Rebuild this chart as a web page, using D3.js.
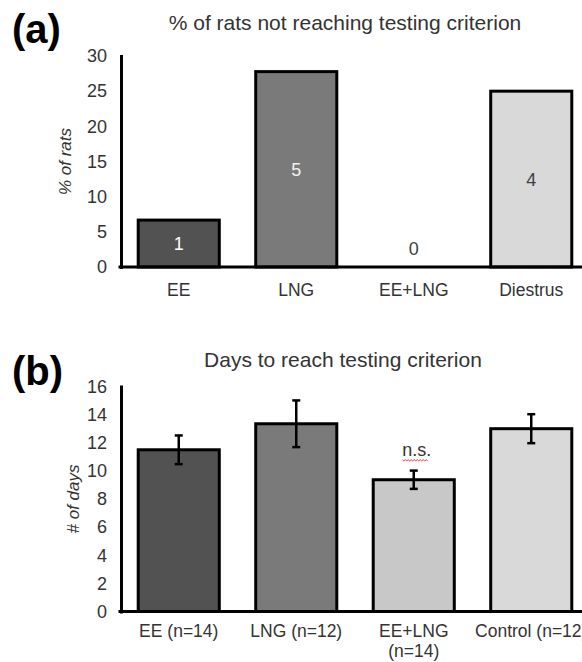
<!DOCTYPE html>
<html>
<head>
<meta charset="utf-8">
<script src="https://cdn.jsdelivr.net/npm/d3@7"></script>
<style>
  html, body { margin: 0; padding: 0; background: #fff; }
  svg { display: block; font-family: Arial, "Liberation Sans", sans-serif; }
</style>
</head>
<body>
<svg id="fig" width="582" height="662"></svg>
<script>
// Panel (a): rats not reaching testing criterion
const groupsA = ["EE", "LNG", "EE+LNG", "Diestrus"];
const pctA = [6.67, 27.78, 0, 25];
const countA = [1, 5, 0, 4];
const ticksA = [0, 5, 10, 15, 20, 25, 30];

// Panel (b): days to reach testing criterion (mean ± SEM)
const groupsB = [["EE (n=14)"], ["LNG (n=12)"], ["EE+LNG", "(n=14)"], ["Control (n=12)"]];
const meanB = [11.5, 13.35, 9.37, 13.0];
const semB = [1.02, 1.66, 0.65, 1.03];
const ticksB = [0, 2, 4, 6, 8, 10, 12, 14, 16];

const fills = ["#525252", "#7a7a7a", "#c8c8c8", "#d9d9d9"];
const fillsA = ["#525252", "#7a7a7a", "#c8c8c8", "#d9d9d9"];
const labelColors = ["#ffffff", "#f2f2f2", "#404040", "#404040"];

const svg = d3.select("#fig");
const textColor = "#333";

const x = d3.scaleBand().domain(d3.range(4)).range([120, 590]).paddingInner(0.31).paddingOuter(0.155);

function frame(g, y, yMax, ticks, axisTitle, titleX) {
  const axis = d3.axisLeft(y).tickValues(ticks).tickSize(0).tickSizeOuter(0).tickPadding(14);
  const ag = g.append("g").attr("transform", "translate(121,0)").call(axis);
  ag.select(".domain").attr("stroke", "#000").attr("stroke-width", 3).attr("stroke-linecap", "square");
  ag.selectAll("text").attr("font-size", 18).attr("fill", textColor).attr("font-family", "Arial, 'Liberation Sans', sans-serif");
  g.append("text")
    .attr("transform", `translate(${titleX},${(y(0) + y(yMax)) / 2}) rotate(-90)`)
    .attr("text-anchor", "middle")
    .attr("font-size", 17).attr("font-style", "italic").attr("fill", textColor)
    .text(axisTitle);
}

// ---------- (a) ----------
const gA = svg.append("g");
const yA = d3.scaleLinear().domain([0, 30]).range([267, 56]);

gA.append("text").attr("x", 12).attr("y", 43).attr("font-size", 40).attr("font-weight", "bold").attr("fill", "#000").text("(a)");
gA.append("text").attr("x", 345).attr("y", 30).attr("text-anchor", "middle").attr("font-size", 21).attr("fill", textColor)
  .text("% of rats not reaching testing criterion");

gA.selectAll("rect.bar").data(pctA).join("rect")
  .attr("class", "bar")
  .attr("x", (d, i) => x(i)).attr("width", x.bandwidth())
  .attr("y", d => yA(d)).attr("height", d => yA(0) - yA(d))
  .attr("fill", (d, i) => fillsA[i])
  .attr("stroke", d => d > 0 ? "#000" : "none").attr("stroke-width", 3);

gA.selectAll("text.count").data(countA).join("text")
  .attr("class", "count")
  .attr("x", (d, i) => x(i) + x.bandwidth() / 2)
  .attr("y", (d, i) => pctA[i] > 0 ? (yA(pctA[i]) + yA(0)) / 2 + 6.5 : yA(0) - 12)
  .attr("text-anchor", "middle").attr("font-size", 18)
  .attr("fill", (d, i) => labelColors[i])
  .text(d => d);

gA.append("line").attr("x1", 120).attr("x2", 590).attr("y1", yA(0)).attr("y2", yA(0))
  .attr("stroke", "#000").attr("stroke-width", 3).attr("stroke-linecap", "square");

frame(gA, yA, 30, ticksA, "% of rats", 71);

gA.selectAll("text.cat").data(groupsA).join("text")
  .attr("class", "cat")
  .attr("x", (d, i) => x(i) + x.bandwidth() / 2).attr("y", 296)
  .attr("text-anchor", "middle").attr("font-size", 17.5).attr("fill", textColor)
  .text(d => d);

// ---------- (b) ----------
const gB = svg.append("g");
const yB = d3.scaleLinear().domain([0, 16]).range([611.5, 386.5]);

gB.append("text").attr("x", 12).attr("y", 385).attr("font-size", 40).attr("font-weight", "bold").attr("fill", "#000").text("(b)");
gB.append("text").attr("x", 343).attr("y", 367).attr("text-anchor", "middle").attr("font-size", 21).attr("fill", textColor)
  .text("Days to reach testing criterion");

gB.selectAll("rect.bar").data(meanB).join("rect")
  .attr("class", "bar")
  .attr("x", (d, i) => x(i)).attr("width", x.bandwidth())
  .attr("y", d => yB(d)).attr("height", d => yB(0) - yB(d))
  .attr("fill", (d, i) => fills[i])
  .attr("stroke", "#000").attr("stroke-width", 3);

// error bars
const eb = gB.selectAll("g.err").data(meanB).join("g").attr("class", "err")
  .attr("transform", (d, i) => `translate(${x(i) + x.bandwidth() / 2},0)`);
eb.append("line").attr("x1", 0).attr("x2", 0)
  .attr("y1", (d, i) => yB(d + semB[i])).attr("y2", (d, i) => yB(d - semB[i]))
  .attr("stroke", "#000").attr("stroke-width", 2.5);
eb.append("line").attr("x1", -4).attr("x2", 4)
  .attr("y1", (d, i) => yB(d + semB[i])).attr("y2", (d, i) => yB(d + semB[i]))
  .attr("stroke", "#000").attr("stroke-width", 2.5);
eb.append("line").attr("x1", -4).attr("x2", 4)
  .attr("y1", (d, i) => yB(d - semB[i])).attr("y2", (d, i) => yB(d - semB[i]))
  .attr("stroke", "#000").attr("stroke-width", 2.5);

// n.s. marker over EE+LNG
const nsX = x(2) + x.bandwidth() / 2 + 3;
const nsY = yB(meanB[2] + semB[2]) - 15;
gB.append("text").attr("x", nsX).attr("y", nsY).attr("text-anchor", "middle")
  .attr("font-size", 18).attr("fill", textColor).text("n.s.");
const wave = d3.range(0, 26, 1.5).map((dx, k) => [nsX - 14.5 + dx, nsY + 4.5 + (k % 2 ? 1.1 : -0.6)]);
gB.append("path").attr("d", d3.line()(wave)).attr("fill", "none").attr("stroke", "#e04040").attr("stroke-width", 0.9);

gB.append("line").attr("x1", 120).attr("x2", 590).attr("y1", yB(0)).attr("y2", yB(0))
  .attr("stroke", "#000").attr("stroke-width", 3).attr("stroke-linecap", "square");

frame(gB, yB, 16, ticksB, "# of days", 79);

gB.selectAll("text.cat").data(groupsB).join("text")
  .attr("class", "cat")
  .attr("x", (d, i) => x(i) + x.bandwidth() / 2).attr("y", 637)
  .attr("text-anchor", "middle").attr("font-size", 17.5).attr("fill", textColor)
  .selectAll("tspan").data(d => d).join("tspan")
  .attr("x", function () { return this.parentNode.getAttribute("x"); })
  .attr("dy", (d, j) => j === 0 ? 0 : 20)
  .text(d => d);
</script>
</body>
</html>
